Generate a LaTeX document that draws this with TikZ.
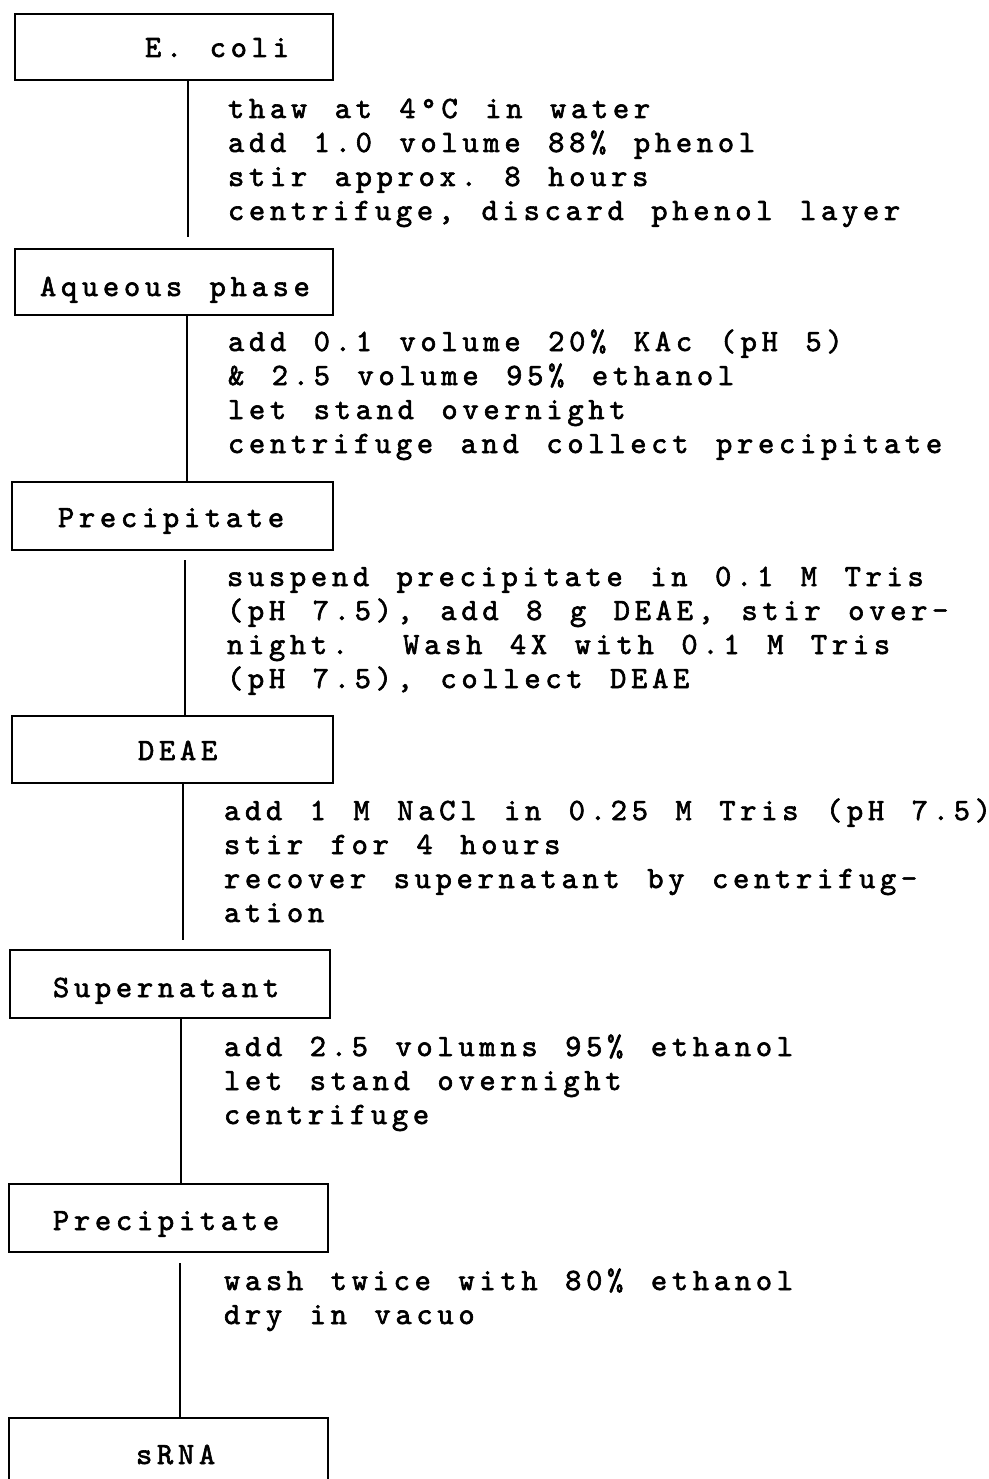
\documentclass[tikz,border=0pt]{standalone}
\usepackage{fontspec}
\newfontfamily\tw{lmmono10-regular}[Extension=.otf, LetterSpace=15.2, WordSpace=1.31, RawFeature={embolden=2}]
% several typed lines set flush left, 34pt apart; baseline = first line
\newcommand\typedlines[1]{\vtop{\baselineskip=34pt\lineskiplimit=-100pt\lineskip=0pt
  \halign{##\hfil\cr#1\crcr}}}
\begin{document}
\frenchspacing
\begin{tikzpicture}[x=1pt, y=-1pt,
  every node/.style={font={\tw\fontsize{31pt}{34pt}\selectfont}, inner sep=0pt, outer sep=0pt},
  stage/.style={draw, line width=2pt, anchor=north west},
  stagename/.style={anchor=base west},
  procedure/.style={anchor=base west},
  link/.style={line width=2pt}]
\useasboundingbox (0,0) rectangle (988,1479);
\clip (0,0) rectangle (988,1479);

% stages
\node[stage, minimum width=318pt, minimum height=66pt] (b1) at (15,14) {};
\node[stage, minimum width=318pt, minimum height=66pt] (b2) at (15,249) {};
\node[stage, minimum width=321pt, minimum height=68pt] (b3) at (12,482) {};
\node[stage, minimum width=321pt, minimum height=67pt] (b4) at (12,716) {};
\node[stage, minimum width=320pt, minimum height=68pt] (b5) at (10,950) {};
\node[stage, minimum width=319pt, minimum height=68pt] (b6) at (9,1184) {};
\node[stage, minimum width=319pt, minimum height=90pt] (b7) at (9,1418) {};

% stage names
\node[stagename] (t1) at (145,57) {E. coli};
\node[stagename] (t2) at (40,296) {Aqueous phase};
\node[stagename] (t3) at (58,527) {Precipitate};
\node[stagename] (t4) at (138,760) {DEAE};
\node[stagename] (t5) at (53,997) {Supernatant};
\node[stagename] (t6) at (53,1230) {Precipitate};
\node[stagename] (t7) at (136,1464) {sRNA};

% procedures
\node[procedure] (s1) at (228,118) {\typedlines{%
thaw at 4°C in water\cr
add 1.0 volume 88\% phenol\cr
stir approx. 8 hours\cr
centrifuge, discard phenol layer}};
\node[procedure] (s2) at (228,351) {\typedlines{%
add 0.1 volume 20\% KAc (pH 5)\cr
\& 2.5 volume 95\% ethanol\cr
let stand overnight\cr
centrifuge and collect precipitate}};
\node[procedure] (s3) at (227,586) {\typedlines{%
suspend precipitate in 0.1 M Tris\cr
(pH 7.5), add 8 g DEAE, stir over-\cr
night.\ \ Wash 4X with 0.1 M Tris\cr
(pH 7.5), collect DEAE}};
\node[procedure] (s4) at (224,820) {\typedlines{%
add 1 M NaCl in 0.25 M Tris (pH 7.5)\cr
stir for 4 hours\cr
recover supernatant by centrifug-\cr
ation}};
\node[procedure] (s5) at (224,1056) {\typedlines{%
add 2.5 volumns 95\% ethanol\cr
let stand overnight\cr
centrifuge}};
\node[procedure] (s6) at (224,1290) {\typedlines{%
wash twice with 80\% ethanol\cr
dry in vacuo}};

% connectors
\coordinate (e1) at (188,237);
\coordinate (e2) at (187,0);
\coordinate (e3) at (185,560);
\coordinate (e4) at (183,940);
\coordinate (e5) at (181,0);
\coordinate (e6) at (180,1263);
\draw[link] (b1.south -| e1) -- (e1);
\draw[link] (b2.south -| e2) -- (b3.north -| e2);
\draw[link] (e3) -- (b4.north -| e3);
\draw[link] (b4.south -| e4) -- (e4);
\draw[link] (b5.south -| e5) -- (b6.north -| e5);
\draw[link] (e6) -- (b7.north -| e6);
\end{tikzpicture}
\end{document}
